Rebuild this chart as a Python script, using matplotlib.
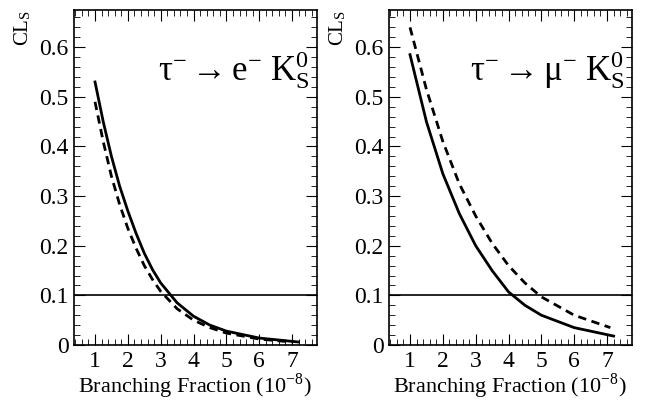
import numpy as np
import matplotlib.pyplot as plt
from matplotlib.ticker import MultipleLocator

plt.rcParams['font.family'] = ['Liberation Serif', 'DejaVu Serif']
plt.rcParams['mathtext.fontset'] = 'stix'

# left: tau -> e K0S
e_x_obs = [1, 1.25, 1.5, 1.75, 2, 2.25, 2.5, 2.75, 3, 3.5, 4, 4.5, 5, 6, 7.2]
e_y_obs = [0.53, 0.45, 0.38, 0.32, 0.27, 0.225, 0.185, 0.152, 0.125, 0.085, 0.058, 0.04, 0.028, 0.014, 0.006]
e_x_exp = [1, 1.25, 1.5, 1.75, 2, 2.25, 2.5, 2.75, 3, 3.5, 4, 4.5, 5, 6, 7]
e_y_exp = [0.49, 0.41, 0.34, 0.283, 0.235, 0.195, 0.16, 0.132, 0.108, 0.073, 0.05, 0.035, 0.024, 0.012, 0.006]

# right: tau -> mu K0S
m_x_obs = [1, 1.5, 2, 2.5, 3, 3.5, 4, 4.5, 5, 6, 7.2]
m_y_obs = [0.585, 0.45, 0.345, 0.265, 0.2, 0.15, 0.107, 0.08, 0.06, 0.035, 0.018]
m_x_exp = [1, 1.5, 2, 2.5, 3, 3.5, 4, 4.5, 5, 6, 7.1]
m_y_exp = [0.64, 0.515, 0.41, 0.325, 0.26, 0.205, 0.16, 0.125, 0.097, 0.06, 0.035]

fig = plt.figure(figsize=(6.5, 4.03), dpi=100)
W, H = 650, 403
panels = [
    (74, e_x_obs, e_y_obs, e_x_exp, e_y_exp, r'$\mathregular{\tau^{-}\rightarrow e^{-}\ K_S^0}$'),
    (389, m_x_obs, m_y_obs, m_x_exp, m_y_exp, r'$\mathregular{\tau^{-}\rightarrow \mu^{-}\ K_S^0}$'),
]
for left, xo, yo, xe, ye, label in panels:
    ax = fig.add_axes([left / W, 1 - 345 / H, 243 / W, 335 / H])
    ax.plot(xo, yo, color='black', lw=2)
    ax.plot(xe, ye, color='black', lw=2, ls=(0, (3, 2)))
    ax.axhline(0.1, color='black', lw=1.2)
    ax.set_xlim(0.36, 7.76)
    ax.set_ylim(0, 0.675)
    ax.xaxis.set_major_locator(MultipleLocator(1))
    ax.xaxis.set_minor_locator(MultipleLocator(0.2))
    ax.yaxis.set_minor_locator(MultipleLocator(0.02))
    ax.set_yticks(np.arange(0, 0.61, 0.1))
    ax.set_yticklabels(['0', '0.1', '0.2', '0.3', '0.4', '0.5', '0.6'])
    ax.tick_params(which='both', direction='in', top=True, right=True, labelsize=17, pad=4)
    ax.tick_params(which='major', length=8)
    ax.tick_params(which='minor', length=4)
    ax.set_xlabel(r'Branching Fraction (10$^{\mathregular{-8}}$)', fontsize=16, labelpad=0)
    ax.set_ylabel(r'CL$_{\mathregular{S}}$', fontsize=15, loc='top', labelpad=4)
    ax.text(0.97, 0.82, label, transform=ax.transAxes, ha='right', va='center', fontsize=25)
    for s in ax.spines.values():
        s.set_linewidth(1.2)

fig.savefig('out.png', dpi=100)
